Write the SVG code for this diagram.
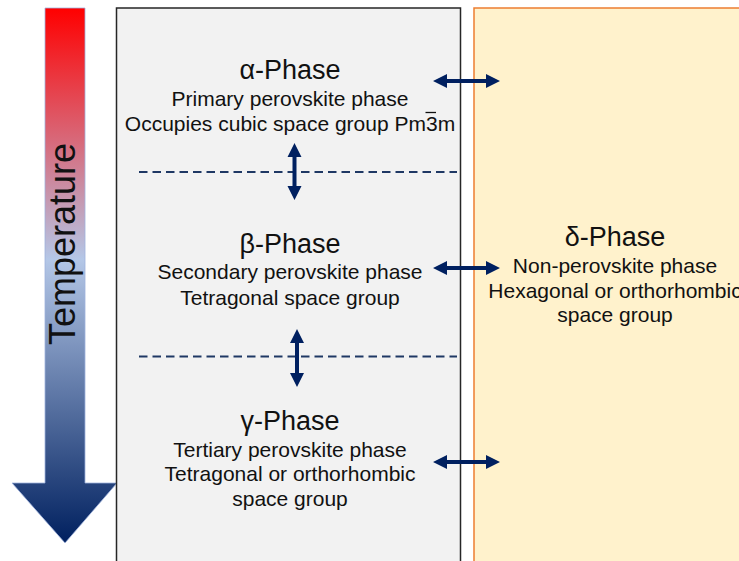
<svg xmlns="http://www.w3.org/2000/svg" width="739" height="561" viewBox="0 0 739 561">
  <defs>
    <linearGradient id="tempGrad" gradientUnits="userSpaceOnUse" x1="0" y1="8" x2="0" y2="543">
      <stop offset="0" stop-color="#FF0000"/>
      <stop offset="0.47" stop-color="#B4C7E7"/>
      <stop offset="1" stop-color="#00205F"/>
    </linearGradient>
    <style>
      text { font-family: "Liberation Sans", Arial, sans-serif; fill: #111; text-anchor: middle; }
      .head { font-size: 27px; }
      .sub { font-size: 21px; }
      .dash { stroke: #1F3864; stroke-width: 2; stroke-dasharray: 8.5 5; fill: none; }
      .arr { fill: #002060; }
    </style>
  </defs>
  <rect width="739" height="561" fill="#FFFFFF"/>

  <g id="temperature">
    <polygon points="45,8 85,8 85,483 117,483 65,543 12,483 45,483" fill="url(#tempGrad)" stroke="#9FB3DD" stroke-width="0.8"/>
    <text transform="translate(75,244) rotate(-90)" style="font-size:36px">Temperature</text>
  </g>

  <g id="perovskite-box">
    <rect x="116.5" y="8" width="344" height="570" fill="#F2F2F2" stroke="#262626" stroke-width="1.5"/>
  </g>

  <g id="delta-box">
    <rect x="474" y="8" width="290" height="570" fill="#FFF2CC" stroke="#ED7D31" stroke-width="1.5"/>
  </g>

  <g id="alpha-phase">
    <text class="head" x="290" y="79">α-Phase</text>
    <text class="sub" x="290" y="105.5">Primary perovskite phase</text>
    <text class="sub" x="290" y="130.5">Occupies cubic space group Pm3m</text>
    <line x1="425.5" y1="112.5" x2="436" y2="112.5" stroke="#111" stroke-width="1.3"/>
  </g>

  <g id="beta-phase">
    <text class="head" x="290" y="253">β-Phase</text>
    <text class="sub" x="290" y="279">Secondary perovskite phase</text>
    <text class="sub" x="290" y="304.5">Tetragonal space group</text>
  </g>

  <g id="gamma-phase">
    <text class="head" x="290" y="430">γ-Phase</text>
    <text class="sub" x="290" y="456.5">Tertiary perovskite phase</text>
    <text class="sub" x="290" y="481">Tetragonal or orthorhombic</text>
    <text class="sub" x="290" y="505.5">space group</text>
  </g>

  <g id="delta-phase">
    <text class="head" x="615" y="246">δ-Phase</text>
    <text class="sub" x="615" y="273">Non-perovskite phase</text>
    <text class="sub" x="615" y="297.5">Hexagonal or orthorhombic</text>
    <text class="sub" x="615" y="322">space group</text>
  </g>

  <g id="connectors">
    <line class="dash" x1="139" y1="172" x2="457" y2="172"/>
    <line class="dash" x1="139" y1="356.5" x2="457" y2="356.5"/>
    <!-- vertical double arrows -->
    <polygon class="arr" points="294.5,143 301.5,157 296.5,157 296.5,186 301.5,186 294.5,200 287.5,186 292.5,186 292.5,157 287.5,157"/>
    <polygon class="arr" points="297,329 304,343 299,343 299,373 304,373 297,387 290,373 295,373 295,343 290,343"/>
    <!-- horizontal double arrows -->
    <polygon class="arr" points="433,81 447,74 447,79 486,79 486,74 500,81 486,88 486,83 447,83 447,88"/>
    <polygon class="arr" points="433,268 447,261 447,266 486,266 486,261 500,268 486,275 486,270 447,270 447,275"/>
    <polygon class="arr" points="433,462 447,455 447,460 486,460 486,455 500,462 486,469 486,464 447,464 447,469"/>
  </g>
</svg>
